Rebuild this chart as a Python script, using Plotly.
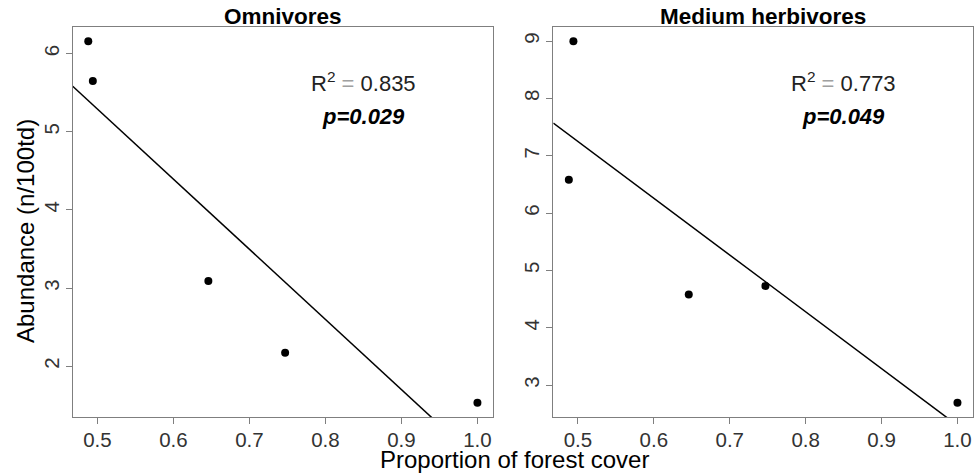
import numpy as np
import plotly.graph_objects as go

# Forest cover proportion at each site
forest_cover = [0.488, 0.494, 0.646, 0.747, 1.0]

# Abundance (n/100td) per guild
omnivores = [6.16, 5.65, 3.09, 2.17, 1.53]
medium_herbivores = [6.58, 9.0, 4.58, 4.73, 2.69]

panel_titles = ["Omnivores", "Medium herbivores"]
r2_values = ["0.835", "0.773"]
p_values = ["0.029", "0.049"]

x_ticks = [0.5, 0.6, 0.7, 0.8, 0.9, 1.0]
x_ticklabels = ["0.5", "0.6", "0.7", "0.8", "0.9", "1.0"]

W, H = 974, 473
FONT = "Liberation Sans, Arial, Helvetica, sans-serif"
GREY = "#7f7f7f"

# plot-area boxes in pixels (left, right, top, bottom)
boxes = [(72.7, 493.0, 26.7, 417.3), (553.3, 973.0, 26.7, 417.3)]


def px_x(v):
    return v / W


def px_y(v):
    return 1 - v / H


def r_range(vals):
    lo, hi = min(vals), max(vals)
    pad = 0.04 * (hi - lo)
    return [lo - pad, hi + pad]


fig = go.Figure()
series = [omnivores, medium_herbivores]
for i, ys in enumerate(series):
    xa = "x" if i == 0 else "x2"
    ya = "y" if i == 0 else "y2"
    xr = r_range(forest_cover)
    # least-squares fit drawn across the full x range
    slope, intercept = np.polyfit(forest_cover, ys, 1)
    lx = np.array(xr)
    fig.add_trace(go.Scatter(
        x=lx, y=slope * lx + intercept, mode="lines",
        line=dict(color="black", width=1.5),
        xaxis=xa, yaxis=ya, showlegend=False, hoverinfo="skip"))
    fig.add_trace(go.Scatter(
        x=forest_cover, y=ys, mode="markers",
        marker=dict(color="black", size=8),
        xaxis=xa, yaxis=ya, showlegend=False, cliponaxis=False))

tick_font = dict(family=FONT, size=20.5, color="#333333")

layout = dict(
    width=W, height=H,
    margin=dict(l=0, r=0, t=0, b=0),
    paper_bgcolor="white", plot_bgcolor="white",
)

for i, ys in enumerate(series):
    l, r, t, b = boxes[i]
    sx = "" if i == 0 else "2"
    layout["xaxis" + sx] = dict(
        showline=True, mirror=True, linecolor=GREY, linewidth=1,
        ticks="outside", ticklen=6, tickcolor=GREY, tickwidth=1,
        showgrid=False, zeroline=False, automargin=False,
        tickfont=tick_font,
        domain=[px_x(l), px_x(r)], range=r_range(forest_cover),
        tickvals=x_ticks, ticktext=x_ticklabels,
        anchor="y" + sx, ticklabelstandoff=-2)
    yr = r_range(ys)
    yt = list(range(int(np.ceil(yr[0])), int(np.floor(yr[1])) + 1))
    layout["yaxis" + sx] = dict(
        showline=True, mirror=True, linecolor=GREY, linewidth=1,
        ticks="outside", ticklen=6, tickcolor=GREY, tickwidth=1,
        showgrid=False, zeroline=False, automargin=False,
        tickfont=tick_font,
        domain=[px_y(b), px_y(t)], range=yr,
        tickvals=yt, ticktext=[str(v) for v in yt], tickangle=-90,
        anchor="x" + sx, ticklabelstandoff=-1)

fig.update_layout(**layout)

annotations = []
for i in range(2):
    l, r, t, b = boxes[i]
    cx = (l + r) / 2
    annotations.append(dict(
        text="<b>" + panel_titles[i] + "</b>", xref="paper", yref="paper",
        x=px_x(cx), y=px_y(17), xanchor="center", yanchor="middle",
        showarrow=False, font=dict(family=FONT, size=22.5, color="black")))
    sx = "" if i == 0 else "2"
    tx = 0.85
    annotations.append(dict(
        text="R<sup>2</sup> <span style='color:#a0a0a0'>=</span> " + r2_values[i],
        xref="x" + sx, yref="paper", x=tx, y=px_y(82),
        xanchor="center", yanchor="middle", showarrow=False,
        font=dict(family=FONT, size=22, color="#222222")))
    annotations.append(dict(
        text="<b><i>p=" + p_values[i] + "</i></b>",
        xref="x" + sx, yref="paper", x=tx, y=px_y(116),
        xanchor="center", yanchor="middle", showarrow=False,
        font=dict(family=FONT, size=22, color="black")))

annotations.append(dict(
    text="Proportion of forest cover", xref="paper", yref="paper",
    x=px_x(514), y=px_y(459), xanchor="center", yanchor="middle",
    showarrow=False, font=dict(family=FONT, size=24, color="black")))
annotations.append(dict(
    text="Abundance (n/100td)", xref="paper", yref="paper",
    x=px_x(25), y=px_y(231), xanchor="center", yanchor="middle",
    textangle=-90, showarrow=False,
    font=dict(family=FONT, size=24, color="black")))

fig.update_layout(annotations=annotations)
fig.write_html("out.html")
